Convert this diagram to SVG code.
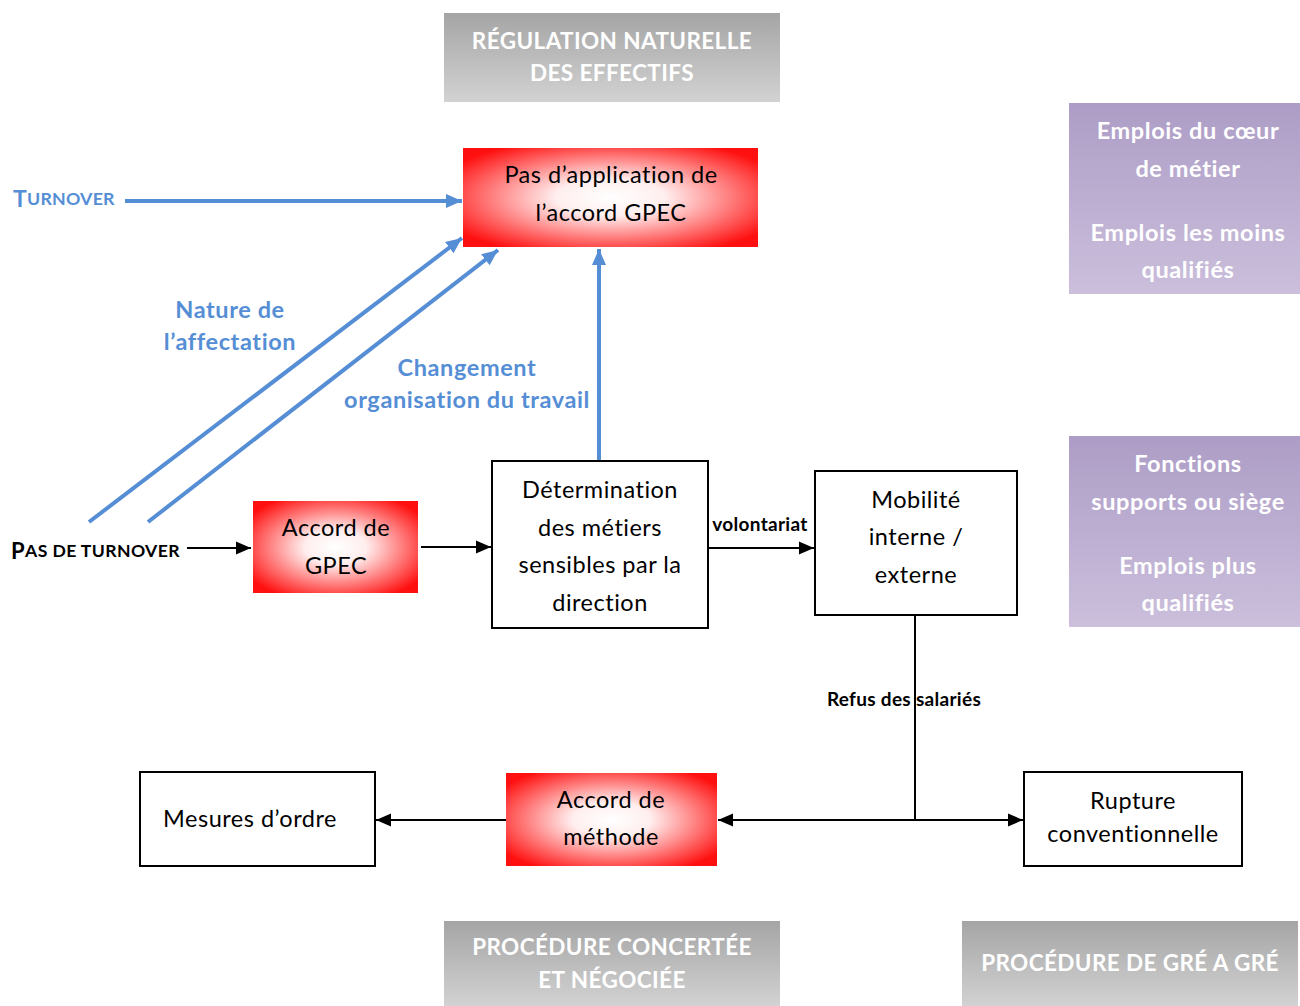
<svg xmlns="http://www.w3.org/2000/svg" width="1300" height="1006" viewBox="0 0 1300 1006">
<style>
text{font-family:Lato,"Open Sans","Liberation Sans",sans-serif;dominant-baseline:central;text-anchor:middle}
.body{font-size:23.5px;letter-spacing:0.5px;fill:#000}
.banner{font-size:22.5px;letter-spacing:0.4px;font-weight:bold;fill:#fff}
.purple{font-size:23.5px;letter-spacing:0.6px;font-weight:bold;fill:#fff}
.blue{font-size:23.5px;letter-spacing:0.6px;font-weight:bold;fill:#558ed5}
.small{font-size:19px;letter-spacing:0.3px;font-weight:bold;fill:#000}
.box{fill:#fff;stroke:#000;stroke-width:2}
.red{fill:url(#redG)}
.bl{stroke:#558ed5;stroke-width:4;fill:none}
.bk{stroke:#000;stroke-width:2;fill:none}
</style>
<defs>
<radialGradient id="redG" cx="0.5" cy="0.5" r="0.62">
<stop offset="0" stop-color="#ffffff"/>
<stop offset="0.3" stop-color="#ffeeee"/>
<stop offset="1" stop-color="#ff1010"/>
</radialGradient>
<linearGradient id="grayG" x1="0" y1="0" x2="0" y2="1">
<stop offset="0" stop-color="#a5a5a5"/>
<stop offset="1" stop-color="#d2d2d2"/>
</linearGradient>
<linearGradient id="purpG" x1="0" y1="0" x2="0" y2="1">
<stop offset="0" stop-color="#ad9dc6"/>
<stop offset="1" stop-color="#cbbfdc"/>
</linearGradient>
<marker id="ab" markerUnits="userSpaceOnUse" markerWidth="18" markerHeight="16" refX="16" refY="8" orient="auto">
<path d="M0,1 L16,8 L0,15 Z" fill="#558ed5"/>
</marker>
<marker id="ak" markerUnits="userSpaceOnUse" markerWidth="16" markerHeight="14" refX="15" refY="7" orient="auto">
<path d="M0,0.5 L15,7 L0,13.5 Z" fill="#000"/>
</marker>
</defs>

<g id="banner-top">
<rect x="444" y="13" width="336" height="89" fill="url(#grayG)"/>
<text class="banner" x="612" y="40">RÉGULATION NATURELLE</text>
<text class="banner" x="612" y="72">DES EFFECTIFS</text>
</g>

<g id="purple-1">
<rect x="1069" y="103" width="231" height="191" fill="url(#purpG)"/>
<text class="purple" x="1188" y="130">Emplois du cœur</text>
<text class="purple" x="1188" y="168">de métier</text>
<text class="purple" x="1188" y="232">Emplois les moins</text>
<text class="purple" x="1188" y="269">qualifiés</text>
</g>

<g id="purple-2">
<rect x="1069" y="436" width="231" height="191" fill="url(#purpG)"/>
<text class="purple" x="1188" y="463">Fonctions</text>
<text class="purple" x="1188" y="501">supports ou siège</text>
<text class="purple" x="1188" y="565">Emplois plus</text>
<text class="purple" x="1188" y="602">qualifiés</text>
</g>

<g id="pas-application">
<rect class="red" x="463" y="148" width="295" height="99"/>
<text class="body" x="611" y="174">Pas d’application de</text>
<text class="body" x="611" y="212">l’accord GPEC</text>
</g>

<g id="turnover">
<text x="13" y="198" style="text-anchor:start;font-weight:bold;fill:#558ed5;font-size:23px;letter-spacing:0.2px">T<tspan style="font-size:17.8px">URNOVER</tspan></text>
</g>

<g id="pas-de-turnover">
<text x="11" y="550" style="text-anchor:start;font-weight:bold;fill:#000;font-size:22px;letter-spacing:0.4px">P<tspan style="font-size:17.6px">AS DE TURNOVER</tspan></text>
</g>

<g id="label-nature">
<text class="blue" x="230" y="309">Nature de</text>
<text class="blue" x="230" y="341">l’affectation</text>
</g>

<g id="label-changement">
<text class="blue" x="467" y="367">Changement</text>
<text class="blue" x="467" y="399">organisation du travail</text>
</g>

<g id="accord-gpec">
<rect class="red" x="253" y="501" width="165" height="92"/>
<text class="body" x="336" y="527">Accord de</text>
<text class="body" x="336" y="565">GPEC</text>
</g>

<g id="determination">
<rect class="box" x="492" y="461" width="216" height="167"/>
<text class="body" x="600" y="489">Détermination</text>
<text class="body" x="600" y="527">des métiers</text>
<text class="body" x="600" y="564">sensibles par la</text>
<text class="body" x="600" y="602">direction</text>
</g>

<g id="mobilite">
<rect class="box" x="815" y="471" width="202" height="144"/>
<text class="body" x="916" y="499">Mobilité</text>
<text class="body" x="916" y="536">interne /</text>
<text class="body" x="916" y="574">externe</text>
</g>

<g id="mesures">
<rect class="box" x="140" y="772" width="235" height="94"/>
<text class="body" x="250" y="818">Mesures d’ordre</text>
</g>

<g id="accord-methode">
<rect class="red" x="506" y="773" width="211" height="93"/>
<text class="body" x="611" y="799">Accord de</text>
<text class="body" x="611" y="836">méthode</text>
</g>

<g id="rupture">
<rect class="box" x="1024" y="772" width="218" height="94"/>
<text class="body" x="1133" y="800">Rupture</text>
<text class="body" x="1133" y="833">conventionnelle</text>
</g>

<g id="banner-bottom-1">
<rect x="444" y="921" width="336" height="85" fill="url(#grayG)"/>
<text class="banner" x="612" y="946">PROCÉDURE CONCERTÉE</text>
<text class="banner" x="612" y="979">ET NÉGOCIÉE</text>
</g>

<g id="banner-bottom-2">
<rect x="962" y="921" width="336" height="85" fill="url(#grayG)"/>
<text class="banner" x="1130" y="962">PROCÉDURE DE GRÉ A GRÉ</text>
</g>

<g id="connectors">
<line class="bl" x1="125" y1="201" x2="462" y2="201" marker-end="url(#ab)"/>
<line class="bl" x1="89" y1="522" x2="462" y2="238" marker-end="url(#ab)"/>
<line class="bl" x1="148" y1="522" x2="498" y2="250" marker-end="url(#ab)"/>
<line class="bl" x1="599" y1="460" x2="599" y2="249" marker-end="url(#ab)"/>
<line class="bk" x1="187" y1="548" x2="251" y2="548" marker-end="url(#ak)"/>
<line class="bk" x1="421" y1="547" x2="491" y2="547" marker-end="url(#ak)"/>
<line class="bk" x1="708" y1="548" x2="814" y2="548" marker-end="url(#ak)"/>
<line class="bk" x1="915" y1="615" x2="915" y2="820"/>
<line class="bk" x1="915" y1="820" x2="718" y2="820" marker-end="url(#ak)"/>
<line class="bk" x1="915" y1="820" x2="1023" y2="820" marker-end="url(#ak)"/>
<line class="bk" x1="506" y1="820" x2="376" y2="820" marker-end="url(#ak)"/>
<text class="small" x="760" y="523">volontariat</text>
<text class="small" x="904" y="698">Refus des salariés</text>
</g>
</svg>
